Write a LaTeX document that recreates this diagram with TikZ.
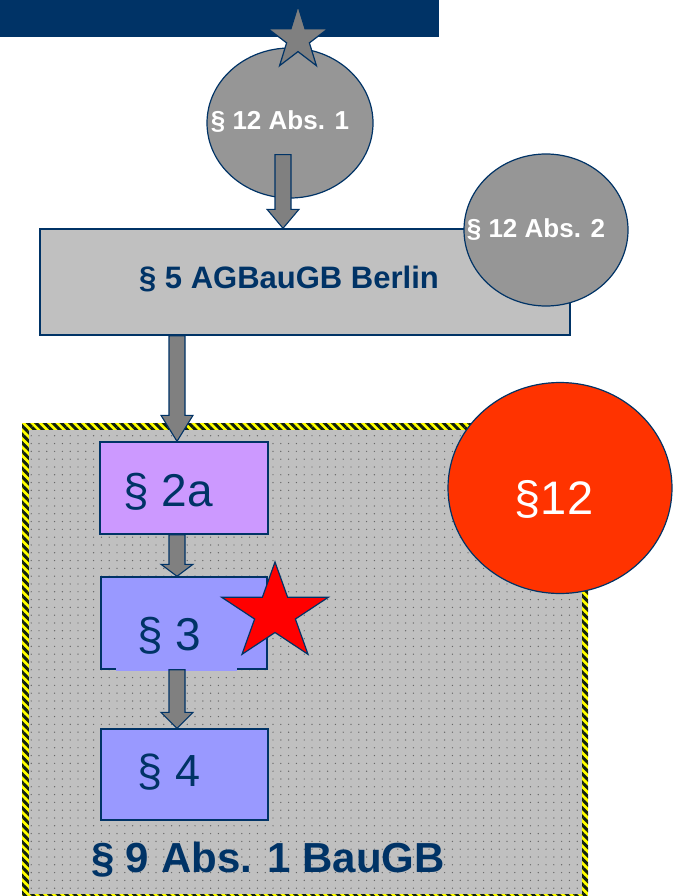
\documentclass[tikz,border=0pt]{standalone}
\usepackage{fontspec}
\setmainfont{Liberation Sans}
\usetikzlibrary{shapes.geometric,calc,patterns.meta}

\definecolor{navy}{HTML}{003366}
\definecolor{ovalgray}{HTML}{969696}
\definecolor{arrowgray}{HTML}{808080}
\definecolor{boxgray}{HTML}{C0C0C0}
\definecolor{lilac}{HTML}{CC99FF}
\definecolor{periwinkle}{HTML}{9999FF}
\definecolor{signalred}{HTML}{FF3300}
\definecolor{starred}{HTML}{FF0000}
\definecolor{hazard}{HTML}{FFFF00}
\definecolor{hazarddark}{HTML}{102010}

\tikzset{
  oval/.style={ellipse, draw=navy, line width=1.2pt, fill=ovalgray, inner sep=0pt},
  lawbox/.style={rectangle, draw=navy, line width=1.4pt, inner sep=0pt},
  starmark/.style={star, star points=5, star point ratio=2.618, draw=navy,
    line width=1.2pt, inner sep=0pt},
  flowarrow/.style={draw=navy, line width=1.1pt, fill=arrowgray, line join=miter},
  boldlabel/.style={font=\bfseries\fontsize{#1}{#1}\selectfont, inner sep=0pt, anchor=base},
  plainlabel/.style={font=\fontsize{#1}{#1}\selectfont, inner sep=0pt, anchor=base},
}

% block arrow: #1 shaft centre x, #2 start, #3 tip, #4 head length
\newcommand\blockarrow[4]{%
  \draw[flowarrow] let \p1=(#2), \p2=(#3) in
    ({#1pt-8pt},\y1) -- ({#1pt-8pt},\y2+#4pt) -- ({#1pt-16pt},\y2+#4pt)
    -- ({#1pt},\y2) -- ({#1pt+16pt},\y2+#4pt) -- ({#1pt+8pt},\y2+#4pt)
    -- ({#1pt+8pt},\y1) -- cycle;}

\begin{document}
\begin{tikzpicture}[x=1pt,y=-1pt]
\useasboundingbox (0,0) rectangle (673,896);

% title bar
\node[rectangle, fill=navy, minimum width=439pt, minimum height=37pt, inner sep=0pt]
  (bar) at (219.5,18.5) {};

% upper oval with its star
\node[oval, minimum width=166pt, minimum height=150pt] (e1) at (290,123) {};
\node[starmark, fill=arrowgray, minimum size=66pt, xscale=0.95, transform shape]
  (gstar) at (298,39) {};
\node[boldlabel=26, text=white] (e1t) at (280,130) {§ 12 Abs. 1};

% AGBauGB box
\node[lawbox, fill=boxgray, minimum width=530pt, minimum height=106pt]
  (b5) at (305,282) {};
\blockarrow{283}{$(e1.south)+(0,-44)$}{b5.north}{19}
\node[boldlabel=31, text=navy] (b5t) at (289,288) {§ 5 AGBauGB Berlin};

% side oval
\node[oval, minimum width=164pt, minimum height=152pt] (e2) at (546,230) {};
\node[boldlabel=26, text=white] (e2t) at (536,237) {§ 12 Abs. 2};

% BauGB area: hazard-striped frame and dotted field
\fill[hazard] (22,423) rectangle (588,900);
\fill[pattern={Lines[angle=-45,distance=6pt,line width=3pt]}, pattern color=hazarddark]
  (22,423) rectangle (588,900);
\fill[boxgray] (28.5,429.5) rectangle (581.5,893.5);
\fill[pattern={Dots[distance=7.8pt,radius=0.7pt]}, pattern color=black!60]
  (28.5,429.5) rectangle (581.5,893.5);

% chain of sections
\node[lawbox, fill=lilac, minimum width=168pt, minimum height=92pt] (s2a) at (184,488) {};
\node[lawbox, fill=periwinkle, minimum width=166pt, minimum height=92pt] (s3) at (184,623) {};
\fill[periwinkle] (116,666) rectangle (237,671);
\node[lawbox, fill=periwinkle, minimum width=167pt, minimum height=91pt] (s4) at (184.5,774.5) {};

\blockarrow{177}{b5.south}{s2a.north}{26}
\blockarrow{177}{s2a.south}{s3.north}{12}
\blockarrow{177}{s3.south}{s4.north}{16}

\node[plainlabel=46, text=navy] (s2at) at (168,506) {§ 2a};
\node[plainlabel=46, text=navy] (s3t) at (169,650) {§ 3};
\node[plainlabel=45, text=navy] (s4t) at (169,786) {§ 4};

% red star on § 3
\node[starmark, fill=starred, minimum size=102pt, xscale=1.1, transform shape]
  (rstar) at (275,613) {};

% § 12 disc
\node[ellipse, draw=navy, line width=1.2pt, fill=signalred, inner sep=0pt,
  minimum width=224pt, minimum height=211pt] (c12) at (560,488) {};
\node[plainlabel=47, text=white] (c12t) at (554,514) {§12};

% area caption
\node[boldlabel=42, text=navy] (s9t) at (268,872) {§ 9 Abs. 1 BauGB};
\end{tikzpicture}
\end{document}
